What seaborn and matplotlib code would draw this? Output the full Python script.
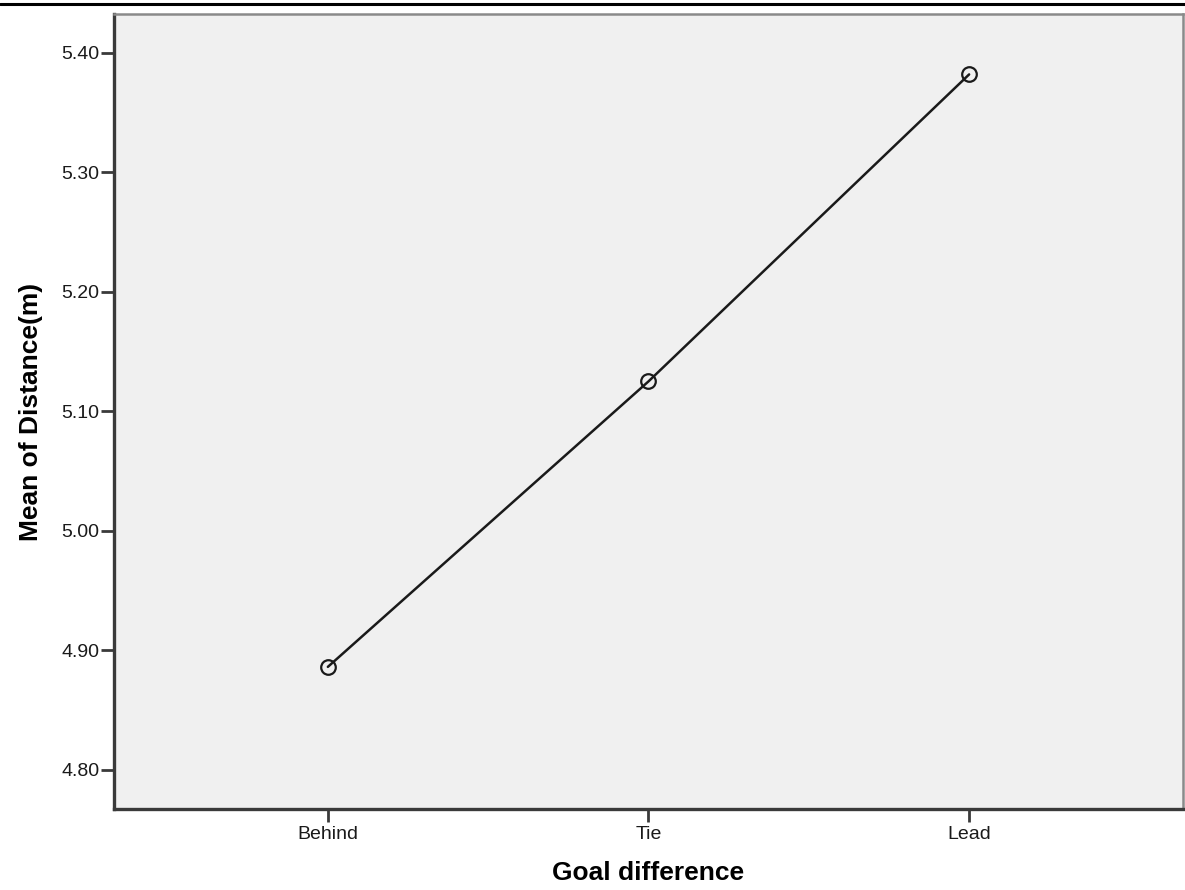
import matplotlib
matplotlib.use('Agg')
import matplotlib.pyplot as plt
from matplotlib.lines import Line2D
import pandas as pd
import seaborn as sns

# values
goal_difference = ['Behind', 'Tie', 'Lead']
mean_distance = [4.886, 5.125, 5.382]
y_ticks = [4.80, 4.90, 5.00, 5.10, 5.20, 5.30, 5.40]

df = pd.DataFrame({'goal': goal_difference, 'distance': mean_distance})

sns.set_theme(style='white')
plt.rcParams['font.family'] = ['Liberation Sans', 'DejaVu Sans']

fig = plt.figure(figsize=(11.85, 8.9), dpi=100)
ax = fig.add_axes([0.0962, 0.0910, 0.9021, 0.8933])
ax.set_facecolor('#f0f0f0')

sns.lineplot(data=df, x='goal', y='distance', sort=False, ax=ax,
             color='#1a1a1a', linewidth=1.8, marker='o', markersize=10.5,
             markerfacecolor='none', markeredgecolor='#1a1a1a',
             markeredgewidth=1.6)

ax.set_xlim(-0.667, 2.667)
ax.set_ylim(4.767, 5.4326)
ax.set_yticks(y_ticks)
ax.set_yticklabels([f'{v:.2f}' for v in y_ticks])

ax.tick_params(axis='both', which='major', bottom=True, left=True,
               direction='out', length=9.5, width=2, color='#3a3a3a',
               labelsize=14, labelcolor='#1a1a1a')
ax.tick_params(axis='y', pad=1)
ax.tick_params(axis='x', pad=2.5)

for side in ['left', 'bottom']:
    ax.spines[side].set_color('#3a3a3a')
    ax.spines[side].set_linewidth(2.4)
for side in ['top', 'right']:
    ax.spines[side].set_color('#8a8a8a')
    ax.spines[side].set_linewidth(1.8)

ax.set_xlabel('Goal difference', fontsize=19, fontweight='bold', color='black')
ax.set_ylabel('Mean of Distance(m)', fontsize=19, fontweight='bold', color='black')
ax.xaxis.set_label_coords(0.5, -0.066)
ax.yaxis.set_label_coords(-0.066, 0.5)

# black rule across the top of the page
fig.add_artist(Line2D([0, 1], [0.9952, 0.9952], transform=fig.transFigure,
                      color='black', linewidth=2.2))

fig.savefig('out.png', dpi=100)
